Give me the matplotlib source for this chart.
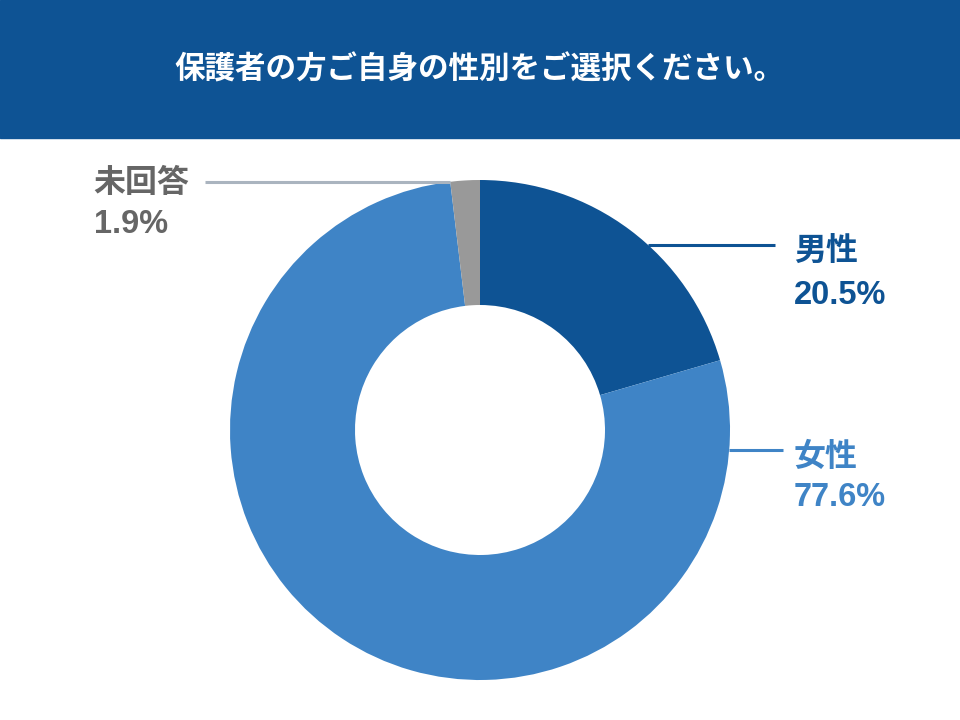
import matplotlib.pyplot as plt
import numpy as np
from matplotlib.patches import Rectangle

plt.rcParams['font.family'] = ['Liberation Sans', 'Noto Sans CJK JP', 'DejaVu Sans']

title = "保護者の方ご自身の性別をご選択ください。"
labels = ["男性", "女性", "未回答"]
values = [20.5, 77.6, 1.9]
colors = ["#0E5394", "#3F84C6", "#999999"]
text_colors = ["#0E5394", "#3F84C6", "#666666"]
line_colors = ["#0E5394", "#3F84C6", "#AAB4BF"]

fig = plt.figure(figsize=(9.6, 7.2), dpi=100)

# title bar
fig.patches.append(Rectangle((0, 1 - 138 / 720), 1, 138 / 720, transform=fig.transFigure,
                             color="#0E5394", zorder=0))
fig.text(0.499, 1 - 70 / 720, title, color="white", fontsize=22, fontweight="bold",
         ha="center", va="center")

# donut: center (480, 430) px, radius 250 px
ax = fig.add_axes([230 / 960, 40 / 720, 500 / 960, 500 / 720])
ax.pie(values, colors=colors, startangle=90, counterclock=False, radius=1,
       wedgeprops=dict(width=0.5, linewidth=0))
ax.set_xlim(-1, 1)
ax.set_ylim(-1, 1)
ax.set_aspect("equal")
ax.axis("off")

# leader lines and labels (line start angle, line end x, text x, alignment)
line_angles = [47.7, -4.6, 96.9]
line_ends = [1.18, 1.21, -1.10]
text_x = [1.255, 1.255, -1.545]
name_dy = [-0.032, -0.032, -0.008]
pct_dy = [-0.20, -0.188, -0.172]

for i, lab in enumerate(labels):
    a = np.deg2rad(line_angles[i])
    x0, y0 = np.cos(a), np.sin(a)
    ax.plot([x0, line_ends[i]], [y0, y0], color=line_colors[i], lw=2.2,
            clip_on=False, solid_capstyle="butt")
    ax.text(text_x[i], y0 + name_dy[i], lab, color=text_colors[i], fontsize=23,
            fontweight="bold", ha="left", va="center", clip_on=False)
    ax.text(text_x[i], y0 + pct_dy[i], f"{values[i]:.1f}%", color=text_colors[i],
            fontsize=23.5, fontweight="bold", ha="left", va="center", clip_on=False)

fig.savefig("out.png", dpi=100)
